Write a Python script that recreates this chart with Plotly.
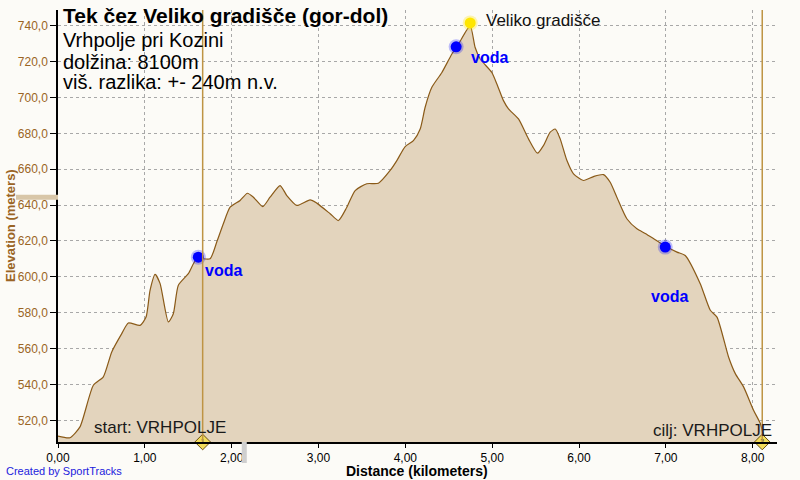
import plotly.graph_objects as go

# ---- data ----
dist_km = [0.00, 0.138, 0.253, 0.407, 0.522, 0.619, 0.734, 0.810, 0.945, 1.014, 1.060, 1.118,
           1.175, 1.271, 1.328, 1.386, 1.501, 1.598, 1.751, 1.828, 1.904, 1.982, 2.097, 2.181,
           2.250, 2.358, 2.442, 2.558, 2.635, 2.750, 2.903, 2.980, 3.134, 3.229, 3.326, 3.422,
           3.556, 3.690, 3.825, 3.902, 3.998, 4.093, 4.171, 4.228, 4.305, 4.421, 4.536, 4.612,
           4.747, 4.804, 4.862, 4.996, 5.054, 5.130, 5.188, 5.303, 5.418, 5.522, 5.591, 5.668,
           5.726, 5.783, 5.861, 5.937, 6.052, 6.167, 6.282, 6.359, 6.436, 6.551, 6.667, 6.763,
           6.878, 6.993, 7.128, 7.223, 7.396, 7.512, 7.589, 7.722, 7.800, 7.895, 8.010, 8.088, 8.126]
elev_m = [511.3, 510.4, 516.4, 539.6, 544.3, 558.2, 568.4, 574.3, 573.0, 577.6, 592.5, 601.4,
          596.4, 574.9, 579.5, 595.3, 601.8, 610.1, 610.1, 619.4, 629.6, 638.8, 642.6, 646.6,
          644.4, 639.2, 644.4, 650.9, 645.3, 639.8, 642.9, 641.1, 635.2, 631.4, 638.8, 648.1,
          651.9, 652.2, 659.3, 664.8, 672.6, 675.9, 682.4, 694.5, 705.6, 713.9, 724.2, 729.7,
          739.8, 727.8, 721.4, 713.9, 707.5, 698.2, 693.6, 688.0, 676.9, 668.9, 673.2, 680.6,
          682.4, 676.9, 664.8, 657.4, 653.7, 655.9, 657.0, 652.7, 644.4, 632.4, 626.8, 624.2,
          620.7, 617.2, 613.8, 611.9, 596.2, 581.4, 577.6, 555.4, 546.1, 538.7, 525.7, 518.3, 510.9]

voda_km = [1.616, 4.585, 6.993]
voda_m = [611.0, 728.2, 616.6]
voda_label_km = [1.67, 4.735, 6.809]
voda_label_m = [603.6, 722.1, 589.2]
peak_km = [4.747]
peak_m = [741.5]
peak_label = "Veliko gradišče"

lap_km = [1.666, 8.11]
lap_labels = ["1", "2"]

x_tickvals = [0, 1, 2, 3, 4, 5, 6, 7, 8]
x_ticktext = ["0,00", "1,00", "2,00", "3,00", "4,00", "5,00", "6,00", "7,00", "8,00"]
y_tickvals = [520, 540, 560, 580, 600, 620, 640, 660, 680, 700, 720, 740]
y_ticktext = ["520,0", "540,0", "560,0", "580,0", "600,0", "620,0", "640,0", "660,0",
              "680,0", "700,0", "720,0", "740,0"]

title_lines = ["Tek čez Veliko gradišče (gor-dol)", "Vrhpolje pri Kozini",
               "dolžina: 8100m", "viš. razlika: +- 240m n.v."]

FONT = "Liberation Sans, Arial, sans-serif"
BROWN = "#9A6424"

fig = go.Figure()

fig.add_trace(go.Scatter(
    x=dist_km, y=elev_m, mode="lines", fill="tozeroy",
    fillcolor="#E3D4BD", line=dict(color="#8A5A18", width=1.2, shape="spline", smoothing=0.6),
    hoverinfo="skip", showlegend=False))

# glow + dots for water
fig.add_trace(go.Scatter(x=voda_km, y=voda_m, mode="markers",
                         marker=dict(size=15, color="rgba(0,0,255,0.25)", line=dict(width=0)),
                         showlegend=False, hoverinfo="skip"))
fig.add_trace(go.Scatter(x=voda_km, y=voda_m, mode="markers",
                         marker=dict(size=11, color="#0000FF", line=dict(width=0)),
                         showlegend=False, hoverinfo="skip"))
# peak
fig.add_trace(go.Scatter(x=peak_km, y=peak_m, mode="markers",
                         marker=dict(size=15, color="rgba(255,230,0,0.3)", line=dict(width=0)),
                         showlegend=False, hoverinfo="skip", cliponaxis=False))
fig.add_trace(go.Scatter(x=peak_km, y=peak_m, mode="markers",
                         marker=dict(size=11, color="#FFE600", line=dict(width=0)),
                         showlegend=False, hoverinfo="skip", cliponaxis=False))

# lap lines
for k in lap_km:
    fig.add_shape(type="line", x0=k, x1=k, y0=0, y1=1, xref="x", yref="paper",
                  line=dict(color="#BE9444", width=1.5), layer="above")

fig.add_trace(go.Scatter(x=lap_km, y=[0, 0], yaxis="y2", mode="markers+text",
                         marker=dict(symbol="diamond", size=12, color="#F2DC5A",
                                     line=dict(color="#6B5010", width=1)),
                         text=lap_labels, textposition="middle center",
                         textfont=dict(size=7, color="#333", family=FONT),
                         cliponaxis=False, showlegend=False, hoverinfo="skip"))

# labels
for xk, ym in zip(voda_label_km, voda_label_m):
    fig.add_annotation(x=xk, y=ym, xref="x", yref="y", text="<b>voda</b>", showarrow=False,
                       xanchor="left", yanchor="middle",
                       font=dict(family=FONT, size=16, color="#0000FF"))
fig.add_annotation(x=4.908, y=742.8, xref="x", yref="y", text=peak_label, showarrow=False,
                   xanchor="left", yanchor="middle", font=dict(family=FONT, size=17, color="#111"))

# title block
tl_y = [16, 40, 62, 82]
tl_size = [21, 20, 20, 20]
for i, (t, py, sz) in enumerate(zip(title_lines, tl_y, tl_size)):
    fig.add_annotation(x=(61 - 58) / 719, y=(442 - py) / 432, xref="paper", yref="paper",
                       text=("<b>%s</b>" % t) if i == 0 else t, showarrow=False,
                       xanchor="left", yanchor="middle",
                       font=dict(family=FONT, size=sz, color="#000"))

fig.add_annotation(x=(92 - 58) / 719, y=(442 - 427) / 432, xref="paper", yref="paper",
                   text="start: VRHPOLJE", showarrow=False, xanchor="left", yanchor="middle",
                   font=dict(family=FONT, size=17, color="#1a1a1a"))
fig.add_annotation(x=(774 - 58) / 719, y=(442 - 430) / 432, xref="paper", yref="paper",
                   text="cilj: VRHPOLJE", showarrow=False, xanchor="right", yanchor="middle",
                   font=dict(family=FONT, size=17, color="#1a1a1a"))

# axis titles
fig.add_annotation(x=(417 - 58) / 719, y=(442 - 471) / 432, xref="paper", yref="paper",
                   text="<b>Distance (kilometers)</b>", showarrow=False,
                   xanchor="center", yanchor="middle", font=dict(family=FONT, size=14, color="#000"))
fig.add_annotation(x=(10 - 58) / 719, y=0.5, xref="paper", yref="paper",
                   text="<b>Elevation (meters)</b>", showarrow=False, textangle=-90,
                   xanchor="center", yanchor="middle", font=dict(family=FONT, size=13, color=BROWN))
fig.add_annotation(x=(4 - 58) / 719, y=(442 - 471) / 432, xref="paper", yref="paper",
                   text="Created by SportTracks", showarrow=False,
                   xanchor="left", yanchor="middle", font=dict(family=FONT, size=11, color="#2222DD"))

# SportTracks position indicators
fig.add_shape(type="rect", x0=(16 - 58) / 719, x1=0, y0=643.0, y1=645.8, xref="paper", yref="y",
              fillcolor="#D8C6A8", line=dict(width=0), layer="above")
fig.add_shape(type="rect", x0=2.116, x1=2.174, y0=-(463 - 442) / 432, y1=0, xref="x", yref="paper",
              fillcolor="#CFCFCF", line=dict(width=0), layer="above")

fig.update_layout(
    width=800, height=480,
    margin=dict(l=58, r=23, t=10, b=38),
    paper_bgcolor="#FCFBF7", plot_bgcolor="#FCFBF7",
    font=dict(family=FONT),
    xaxis=dict(range=[0, 8.28], tickvals=x_tickvals, ticktext=x_ticktext,
               showgrid=True, gridcolor="#A8A8A8", griddash="dot", gridwidth=1,
               showline=True, linecolor="#000", linewidth=1.5, ticks="outside", ticklen=4,
               tickcolor="#000", tickfont=dict(size=12, color="#000", family=FONT),
               zeroline=False, fixedrange=True, automargin=False),
    yaxis=dict(range=[508, 748.7], tickvals=y_tickvals, ticktext=y_ticktext,
               showgrid=True, gridcolor="#A8A8A8", griddash="dot", gridwidth=1,
               showline=True, linecolor="#000", linewidth=1.5, ticks="outside", ticklen=6,
               tickcolor="#000", tickfont=dict(size=12, color=BROWN, family=FONT),
               zeroline=False, fixedrange=True, automargin=False),
    yaxis2=dict(range=[0, 1], overlaying="y", visible=False, fixedrange=True),
    showlegend=False,
)

fig.write_html("out.html", config={"displayModeBar": False},
               post_script="document.body.style.margin='0';document.body.style.background='#FCFBF7';")
